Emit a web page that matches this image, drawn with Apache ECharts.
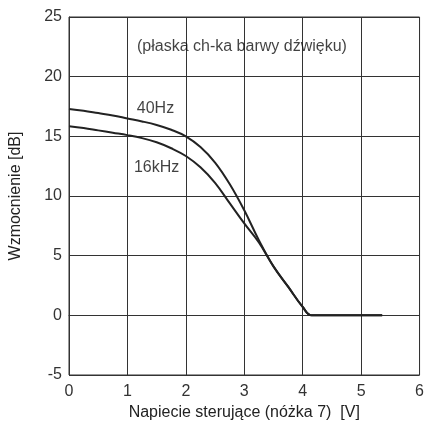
<!DOCTYPE html>
<html>
<head>
<meta charset="utf-8">
<script src="https://cdn.jsdelivr.net/npm/echarts@6/dist/echarts.min.js"></script>
<style>html,body{margin:0;padding:0;background:#fff}#c{width:427px;height:429px}</style>
</head>
<body>
<div id="c"></div>
<script>
const xTicks = [0, 1, 2, 3, 4, 5, 6];
const yTicks = [-5, 0, 5, 10, 15, 20, 25];
const series40Hz = [[0,17.3],[0.25,17.15],[0.5,16.95],[0.75,16.75],[1,16.5],[1.25,16.25],[1.5,15.95],[1.75,15.55],[2,15.0],[2.25,14.1],[2.5,12.8],[2.75,11.0],[3,8.8],[3.25,6.3],[3.5,4.1],[3.75,2.4],[4,0.7],[4.15,0],[4.5,0],[5.36,0]];
const series16kHz = [[0,15.85],[0.25,15.7],[0.5,15.5],[0.75,15.3],[1,15.1],[1.25,14.85],[1.5,14.5],[1.75,14.0],[2,13.35],[2.25,12.4],[2.5,11.1],[2.75,9.4],[3,7.7],[3.25,6.1],[3.5,4.1],[3.75,2.4],[4,0.7],[4.15,0],[4.5,0],[5.36,0]];
const labelTexts = ['40Hz', '16kHz', '(płaska ch-ka barwy dźwięku)'];
const labelCoords = [[1.48, 17.3], [1.5, 12.4], [2.96, 22.5]];
const chart = echarts.init(document.getElementById('c'));
const font = 'Liberation Sans, Arial, sans-serif';
chart.setOption({
  animation: false,
  grid: {left: 67, right: 3, top: 17, bottom: 54, show: true, borderColor: '#333', borderWidth: 1},
  xAxis: {
    type: 'value', min: 0, max: 6, interval: 1,
    name: 'Napiecie sterujące (nóżka 7)  [V]', nameLocation: 'middle', nameGap: 29,
    nameTextStyle: {fontFamily: font, fontSize: 16, color: '#222'},
    axisLine: {show: true, lineStyle: {color: '#333'}},
    axisTick: {show: false},
    axisLabel: {fontFamily: font, fontSize: 16, color: '#333', margin: 9, formatter: v => xTicks.includes(v) ? String(v) : ''},
    splitLine: {show: true, lineStyle: {color: '#333', width: 1}}
  },
  yAxis: {
    type: 'value', min: -5, max: 25, interval: 5,
    name: 'Wzmocnienie [dB]', nameLocation: 'middle', nameGap: 45,
    nameTextStyle: {fontFamily: font, fontSize: 16, color: '#222'},
    axisLine: {show: true, lineStyle: {color: '#333'}},
    axisTick: {show: false},
    axisLabel: {fontFamily: font, fontSize: 16, color: '#333', margin: 7, formatter: v => yTicks.includes(v) ? String(v) : ''},
    splitLine: {show: true, lineStyle: {color: '#333', width: 1}}
  },
  series: [
    {type: 'line', name: '40Hz', data: series40Hz, smooth: 0.4, showSymbol: false,
     lineStyle: {color: '#222', width: 2}},
    {type: 'line', name: '16kHz', data: series16kHz, smooth: 0.4, showSymbol: false,
     lineStyle: {color: '#222', width: 2}},
    {type: 'scatter', symbolSize: 1, itemStyle: {color: 'rgba(0,0,0,0)'}, silent: true,
     data: labelCoords.map((c, i) => ({value: c, name: labelTexts[i]})),
     label: {show: true, position: 'inside', fontFamily: font, fontSize: 16, color: '#111', formatter: p => p.name}}
  ]
});
</script>
</body>
</html>
